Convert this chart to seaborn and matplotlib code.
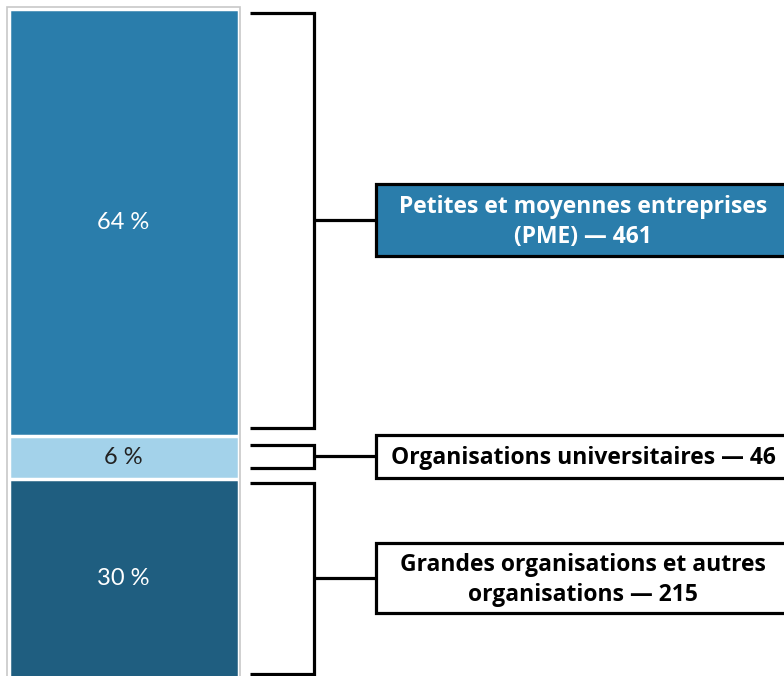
import numpy as np
import pandas as pd
import matplotlib
matplotlib.use("Agg")
import matplotlib.pyplot as plt
from matplotlib.patches import Rectangle
import seaborn as sns

# data
categories = ["Petites et moyennes entreprises\n(PME) — 461",
              "Organisations universitaires — 46",
              "Grandes organisations et autres\norganisations — 215"]
counts = [461, 46, 215]
pct_labels = ["64 %", "6 %", "30 %"]
colors = ["#2a7dab", "#a3d2ea", "#1f5e80"]
pct_colors = ["white", "#222222", "white"]
box_fill = ["#2a7dab", "white", "white"]
box_text = ["white", "black", "black"]

sns.set_theme(style="white")
plt.rcParams['font.family'] = ['Open Sans', 'DejaVu Sans']

W, H = 784, 676
fig = plt.figure(figsize=(W / 100, H / 100), dpi=100)

# stacked bar (cumulative trick, y inverted so first category on top)
cum = np.cumsum(counts)
ax = fig.add_axes([8.5 / W, -2 / H, 230 / W, 669.5 / H])
for total, col in reversed(list(zip(cum, colors))):
    df = pd.DataFrame({"g": ["all"], "v": [total]})
    sns.barplot(data=df, x="g", y="v", color=col, width=1.0, saturation=1,
                edgecolor="white", linewidth=2.5, ax=ax)
ax.set_xlim(-0.5, 0.5)
ax.set_ylim(cum[-1], 0)
ax.axis("off")

starts = np.concatenate([[0], cum[:-1]])
for s, c, lab, tc in zip(starts, counts, pct_labels, pct_colors):
    ax.text(0, s + c / 2, lab, ha="center", va="center", fontsize=17,
            color=tc, family=["Lato", "DejaVu Sans"], zorder=10)

# thin gray frame around the bar
fig.patches.append(Rectangle((7 / W, -10 / H), 233 / W, (H + 3) / H, transform=fig.transFigure,
                             fill=False, edgecolor="#c8c8c8", lw=1.2))

# overlay axes in pixel coordinates for brackets and boxes
ov = fig.add_axes([0, 0, 1, 1])
ov.set_xlim(0, W)
ov.set_ylim(H, 0)
ov.axis("off")
ov.patch.set_alpha(0)

to_px = lambda v: H - ax.transData.transform((0, v))[1]
x0, xv, xb = 250, 314, 376
box_h = [72, 43, 70]
for i, (s, c) in enumerate(zip(starts, counts)):
    if c < 100:
        top, bot = to_px(s) + 9, to_px(s + c) - 11
    else:
        top, bot = to_px(s) + 4.5, to_px(s + c) - 8
    if i == len(counts) - 1:
        bot = H - 2.5
    mid = (top + bot) / 2
    ov.plot([x0, xv, xv, x0], [top, top, bot, bot], color="black", lw=2.3,
            solid_joinstyle="miter", solid_capstyle="butt")
    ov.plot([xv, xb], [mid, mid], color="black", lw=2.3, solid_capstyle="butt")
    ov.add_patch(Rectangle((xb, mid - box_h[i] / 2), 414, box_h[i],
                           facecolor=box_fill[i], edgecolor="black", lw=2.3))
    ov.text(583, mid + 1.5, categories[i], ha="center", va="center", fontsize=16.5,
            fontweight="bold", color=box_text[i], linespacing=1.3)

fig.savefig("out.png", dpi=100)
